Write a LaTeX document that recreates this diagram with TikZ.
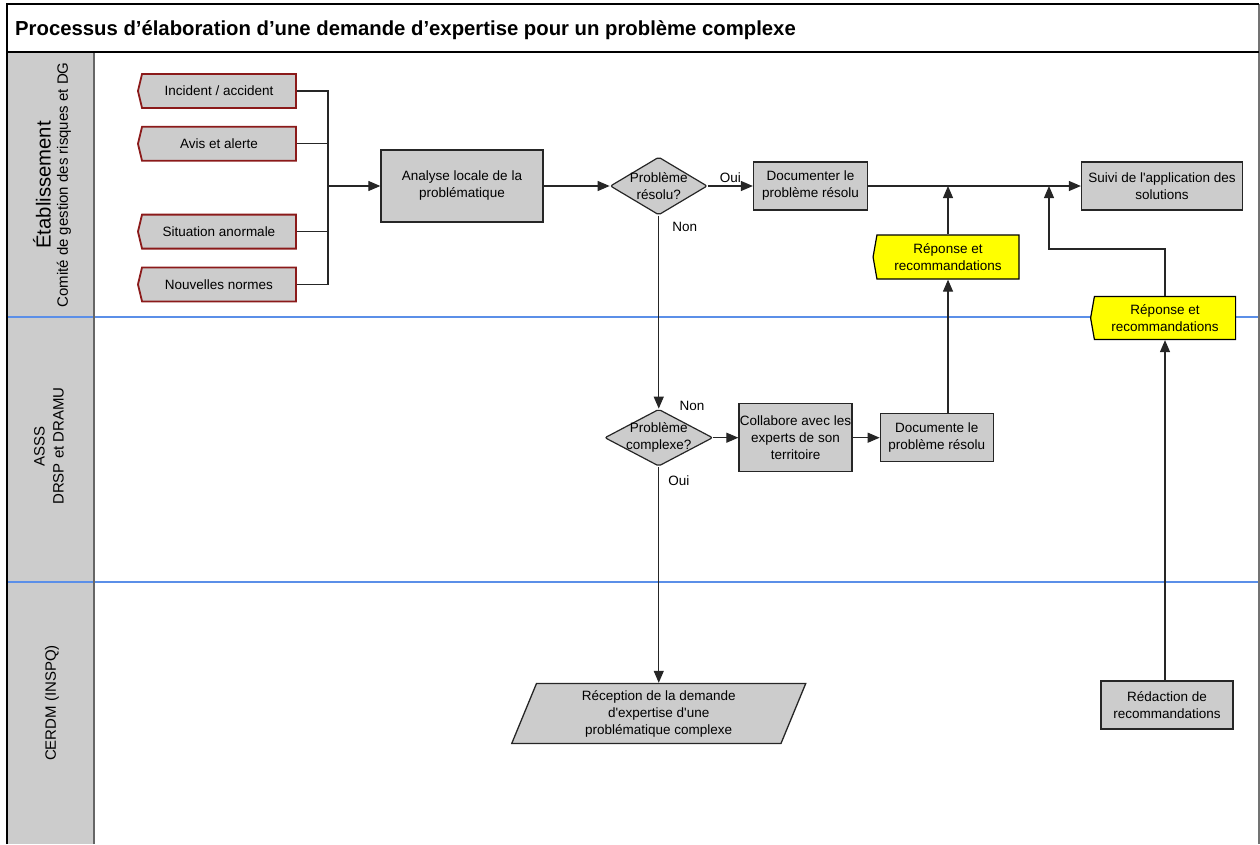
\documentclass[tikz,border=0pt]{standalone}
\usepackage{fontspec}
\setmainfont{Liberation Sans}
\usetikzlibrary{arrows.meta,positioning,shapes.geometric,shapes.symbols}
\definecolor{boxgray}{HTML}{CCCCCC}
\definecolor{inred}{HTML}{8B1A1A}
\definecolor{laneblue}{HTML}{5B8FE8}
\definecolor{jaune}{HTML}{FFFF00}

\begin{document}
\begin{tikzpicture}[x=1pt,y=-1pt,
			every node/.style={font=\fontsize{13.5}{17}\selectfont},
			box/.style={draw=black!85,line width=1.3pt,fill=boxgray,align=center,inner sep=2pt},
			inbox/.style={shape=signal,signal to=west,signal pointer angle=153,draw=inred,line width=1.8pt,fill=boxgray,minimum width=158pt,minimum height=34pt,inner sep=2pt},
			repbox/.style={shape=signal,signal to=west,signal pointer angle=160,draw=black,line width=1.2pt,fill=jaune,align=center,minimum width=146pt,minimum height=44pt,inner sep=2pt},
			choix/.style={diamond,draw=black!85,line width=1.2pt,fill=boxgray,rounded corners=2pt,inner sep=0pt},
			ln/.style={draw=black!85,line width=1.2pt},
			arr/.style={ln,-{Triangle[length=12pt,width=10pt]}},
			lbl/.style={inner sep=1pt},
			lanetxt/.style={rotate=90,align=center,font=\fontsize{15}{19}\selectfont}
			]
			\useasboundingbox (0,0) rectangle (1260,844);
			% couloirs
			\fill[boxgray] (7,52) rectangle (94,844);
			\draw[laneblue,line width=1.2pt] (7,317) -- (1259,317);
			\draw[laneblue,line width=1.2pt] (7,582) -- (1259,582);
			\draw[black!60,line width=1.6pt] (94,52) -- (94,844);
			\draw[black!55,line width=1.6pt] (1259,4) -- (1259,844);
			\draw[line width=1.5pt] (7,844) -- (7,4) -- (1259,4);
			\draw[line width=1.3pt] (7,52) -- (1259,52);
			\node[anchor=west,inner sep=0pt,font=\bfseries\fontsize{20.3}{24}\selectfont] (titre) at (15,30) {Processus d’élaboration d’une demande d’expertise pour un problème complexe};
			\node[rotate=90,font=\fontsize{20.3}{24}\selectfont] (etab) at (42,185) {Établissement};
			\node[lanetxt] (comite) at (64,185) {Comité de gestion des risques et DG};
			\node[lanetxt] (asss) at (49,446) {ASSS\\DRSP et DRAMU};
			\node[lanetxt] (cerdm) at (52,703) {CERDM (INSPQ)};
			% declencheurs
			\node[inbox] (inc) at (219,91) {Incident / accident};
			\node[inbox] (avis) [below=17pt of inc] {Avis et alerte};
			\node[inbox] (sit) [below=52pt of avis] {Situation anormale};
			\node[inbox] (nouv) [below=17pt of sit] {Nouvelles normes};
			\coordinate (bus) at (328,186);
			\foreach \s in {inc,avis,sit,nouv}
				\draw[ln] (\s.east) -| (bus);
			% etablissement
			\node[box,minimum width=162pt,minimum height=72pt] (ana) at (462,186) {Analyse locale de la\\problématique};
			\node[choix,minimum width=97pt,minimum height=58pt] (res) [right=66pt of ana] {};
			\node[align=center,inner sep=0pt] (restxt) at (res) {Problème\\résolu?};
			\node[box,minimum width=114pt,minimum height=48pt] (doc1) [right=45pt of res] {Documenter le\\problème résolu};
			\node[box,minimum width=161pt,minimum height=48pt] (suivi) at (1162,186) {Suivi de l\textquotesingle application des\\solutions};
			\node[repbox] (rep1) at (948,257) {Réponse et\\recommandations};
			\node[repbox,minimum width=145pt,minimum height=43pt] (rep2) at (1165,318) {Réponse et\\recommandations};
			\coordinate (coin) at (1049,249);
			\coordinate (mrg) at (1049,186);
			% ASSS
			\node[choix,minimum width=108pt,minimum height=57pt] (cpx) [below=193pt of res] {};
			\node[align=center,inner sep=0pt] (cpxtxt) at (cpx) {Problème\\complexe?};
			\node[box,inner xsep=0pt,minimum width=113pt,minimum height=68pt] (col) [right=25pt of cpx] {Collabore avec les\\experts de son\\territoire};
			\node[box,minimum width=113pt,minimum height=48pt] (doc2) [right=27pt of col] {Documente le\\problème résolu};
			\node[lbl] (non2) at (692,406) {Non};
			% CERDM
			\node[box,trapezium,trapezium left angle=64,trapezium right angle=116,trapezium stretches body,minimum width=294pt,minimum height=60pt] (rec) [below=216pt of cpx] {Réception de la demande\\d\textquotesingle expertise d\textquotesingle une\\problématique complexe};
			\node[box,minimum width=132pt,minimum height=48pt] (red) at (1167,705) {Rédaction de\\recommandations};
			% fleches
			\draw[arr] (bus) -- (ana);
			\draw[arr] (ana) -- (res);
			\draw[arr] (res) -- node[lbl,above=2pt]{Oui} (doc1);
			\draw[arr] (doc1) -- (suivi);
			\draw[arr] (res.south) -- node[lbl,pos=0.06,right=12pt]{Non} (cpx.north);
			\draw[arr] (cpx) -- (col);
			\draw[arr] (col) -- (doc2);
			\draw[arr] (cpx.south) -- node[lbl,pos=0.065,right=8pt]{Oui} (rec.north);
			\draw[arr] (doc2.north -| rep1) -- (rep1.south);
			\draw[arr] (rep1.north) -- (rep1.north |- suivi.west);
			\draw[arr] (red.north -| rep2) -- (rep2.south);
			\draw[arr] (rep2.north) |- (coin) -- (mrg);
		\end{tikzpicture}
\end{document}
